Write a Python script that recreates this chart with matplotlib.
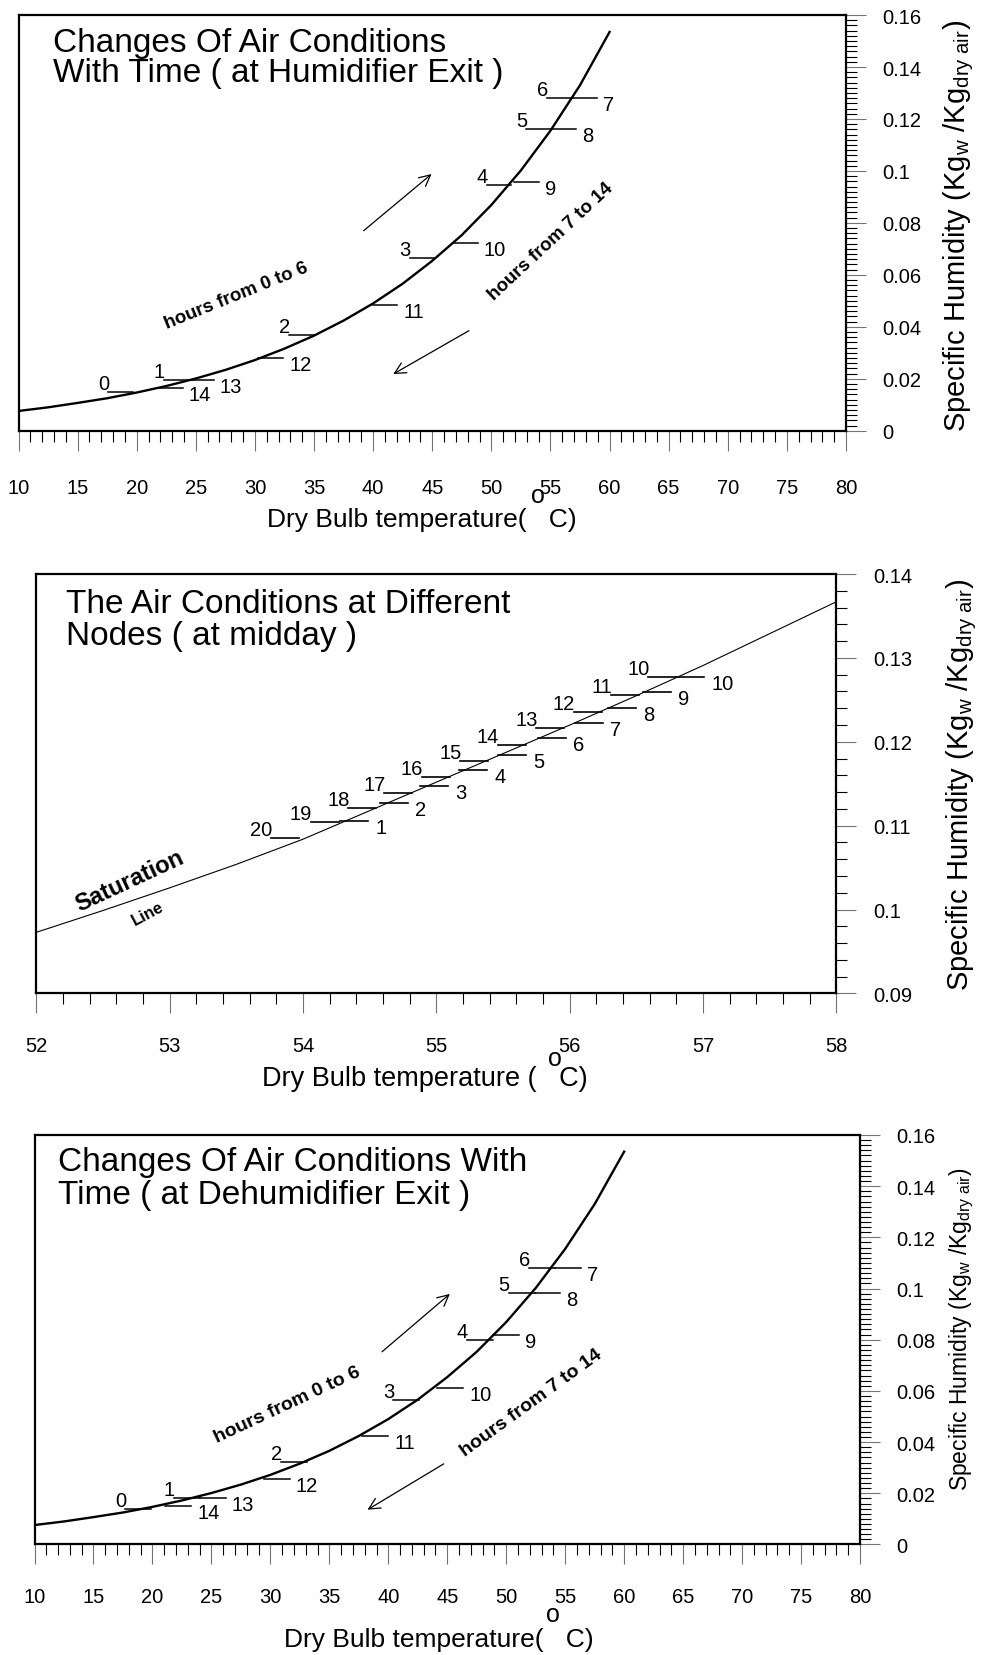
import matplotlib
matplotlib.use("Agg")
import matplotlib.pyplot as plt
from matplotlib.ticker import MultipleLocator, FuncFormatter

plt.rcParams["font.family"] = ["Liberation Sans", "DejaVu Sans"]
plt.rcParams["mathtext.fontset"] = "custom"
plt.rcParams["mathtext.rm"] = "Liberation Sans"
plt.rcParams["mathtext.it"] = "Liberation Sans:italic"
plt.rcParams["mathtext.bf"] = "Liberation Sans:bold"

# saturation curve used in the top and bottom panels
sat_temp = [10, 12.5, 15, 17.5, 20, 22.5, 25, 27.5, 30, 32.5, 35, 37.5,
            40, 42.5, 45, 47.5, 50, 52.5, 55, 57.5, 60]
sat_hum = [0.0076, 0.0090, 0.0107, 0.0125, 0.0147, 0.0172, 0.0201, 0.0234,
           0.0272, 0.0316, 0.0366, 0.0424, 0.0490, 0.0566, 0.0654, 0.0753,
           0.0869, 0.1002, 0.1155, 0.1330, 0.1535]

hours = list(range(15))

# air state at humidifier exit, hours 0..14
hum_temp = [19.7, 24.4, 34.97, 45.2, 51.7, 55.05, 56.8, 56.8, 55.05, 51.9,
            46.75, 39.95, 30.3, 24.4, 21.8]
hum_q = [0.0148, 0.0195, 0.0368, 0.0665, 0.0947, 0.1160, 0.1279, 0.1279,
         0.1160, 0.0958, 0.0721, 0.0484, 0.0280, 0.0195, 0.0163]

# air state at dehumidifier exit, hours 0..14
dehum_temp = [19.9, 24.0, 33.1, 42.64, 48.85, 52.4, 54.15, 54.15, 52.4,
              48.85, 44.15, 37.79, 29.46, 24.0, 21.1]
dehum_q = [0.0139, 0.0181, 0.0321, 0.0566, 0.0799, 0.0982, 0.1082, 0.1082,
           0.0982, 0.0819, 0.0610, 0.0423, 0.0256, 0.0181, 0.0152]

# middle panel: saturation line and nodes at midday
mid_temp = [52, 52.5, 53, 53.5, 54, 54.5, 55, 55.5, 56, 56.5, 57, 57.5, 58]
mid_hum = [0.0973, 0.0999, 0.1026, 0.1054, 0.1084, 0.1118, 0.1152, 0.1186,
           0.1220, 0.1255, 0.1291, 0.1329, 0.1367]

node_left_labels = ["20", "19", "18", "17", "16", "15", "14", "13", "12", "11", "10"]
node_left_temp = [53.97, 54.27, 54.55, 54.82, 55.1, 55.39, 55.67, 55.96, 56.24, 56.52, 56.8]
node_left_q = [0.1085, 0.1104, 0.1121, 0.1139, 0.1158, 0.1177, 0.1196,
               0.1216, 0.1236, 0.1256, 0.1277]

node_right_labels = ["1", "2", "3", "4", "5", "6", "7", "8", "9", "10"]
node_right_temp = [54.28, 54.58, 54.88, 55.17, 55.46, 55.76, 56.04, 56.29, 56.55, 56.8]
node_right_q = [0.1106, 0.1127, 0.1147, 0.1166, 0.1184, 0.1204, 0.1222,
                0.1240, 0.1259, 0.1277]

ylabel = r"Specific Humidity (Kg$_{\mathrm{w}}$ /Kg$_{\mathrm{dry\ air}}$)"


def style_axes(ax, xlim, ylim, xmaj, xmin, ymaj, ymin, xpad=16):
    ax.set_xlim(xlim)
    ax.set_ylim(ylim)
    ax.xaxis.set_major_locator(MultipleLocator(xmaj))
    ax.xaxis.set_minor_locator(MultipleLocator(xmin))
    ax.yaxis.set_major_locator(MultipleLocator(ymaj))
    ax.yaxis.set_minor_locator(MultipleLocator(ymin))
    ax.xaxis.tick_bottom()
    ax.yaxis.tick_right()
    ax.yaxis.set_major_formatter(FuncFormatter(lambda v, p: f"{v:g}"))
    ax.xaxis.set_major_formatter(FuncFormatter(lambda v, p: f"{v:g}"))
    ax.tick_params(which="major", direction="out", length=14.4, width=0.8,
                   color="0.45", labelsize=14.5)
    ax.tick_params(which="minor", direction="out", length=7.6, width=0.8,
                   color="black")
    ax.tick_params(axis="x", which="major", pad=xpad)
    ax.tick_params(axis="y", which="major", pad=12)
    for sp in ax.spines.values():
        sp.set_linewidth(1.6)


def draw_hours(ax, temp, q, bar_len):
    for h, t, v in zip(hours, temp, q):
        if h <= 6:
            ax.plot([t - bar_len, t], [v, v], color="black", lw=1.1)
            ax.annotate(str(h), (t - bar_len, v), xytext=(1, 3),
                        textcoords="offset pixels", ha="right",
                        va="baseline", fontsize=14.5)
        else:
            ax.plot([t, t + bar_len], [v, v], color="black", lw=1.1)
            ax.annotate(str(h), (t + bar_len, v), xytext=(6, -12),
                        textcoords="offset pixels", ha="left",
                        va="baseline", fontsize=14.5)


def arrow(ax, start, end):
    ax.annotate("", xy=end, xytext=start,
                arrowprops=dict(arrowstyle="->", lw=0.9, color="black",
                                shrinkA=0, shrinkB=0, mutation_scale=20))


fig = plt.figure(figsize=(9.83, 16.56), dpi=100)

# ---- top panel: humidifier exit
ax1 = fig.add_axes([0.01882, 0.7393, 0.8418, 0.2510])
style_axes(ax1, (10, 80), (0, 0.16), 5, 1, 0.02, 0.002, xpad=20)
ax1.plot(sat_temp, sat_hum, color="black", lw=1.7)
draw_hours(ax1, hum_temp, hum_q, 2.1)
arrow(ax1, (39.2, 0.0770), (44.94, 0.0988))
arrow(ax1, (48.1, 0.0385), (41.7, 0.0218))
ax1.text(28.4, 0.052, "hours from 0 to 6", rotation=22, ha="center",
         va="center", fontsize=13.5, fontweight="bold")
ax1.text(55.0, 0.0731, "hours from 7 to 14", rotation=43, ha="center",
         va="center", fontsize=13.5, fontweight="bold")
ax1.text(0.0421, 0.935, "Changes Of Air Conditions", transform=ax1.transAxes,
         ha="left", va="center", fontsize=24)
ax1.text(0.0421, 0.861, "With Time ( at Humidifier Exit )",
         transform=ax1.transAxes, ha="left", va="center", fontsize=24)
ax1.text(0.4873, -0.2124, "Dry Bulb temperature(   C)", transform=ax1.transAxes,
         ha="center", va="center", fontsize=19)
ax1.text(0.6278, -0.1547, "o", transform=ax1.transAxes, ha="center",
         va="center", fontsize=18)
ax1.text(1.1366, 0.495, ylabel, transform=ax1.transAxes, rotation=90,
         ha="center", va="center", fontsize=21)

# ---- middle panel: nodes at midday
ax2 = fig.add_axes([0.03713, 0.39946, 0.8138, 0.2533])
style_axes(ax2, (52, 58), (0.09, 0.14), 1, 0.2, 0.01, 0.002)
ax2.plot(mid_temp, mid_hum, color="black", lw=0.8)
for lab, t, v in zip(node_left_labels, node_left_temp, node_left_q):
    ax2.plot([t - 0.21, t], [v, v], color="black", lw=1.2)
    ax2.annotate(lab, (t - 0.21, v), xytext=(1, 3), textcoords="offset pixels",
                 ha="right", va="baseline", fontsize=14.5)
for lab, t, v in zip(node_right_labels, node_right_temp, node_right_q):
    ax2.plot([t, t + 0.21], [v, v], color="black", lw=1.2)
    ax2.annotate(lab, (t + 0.21, v), xytext=(7, -12), textcoords="offset pixels",
                 ha="left", va="baseline", fontsize=14.5)
ax2.text(52.695, 0.10354, "Saturation", rotation=25, ha="center", va="center",
         fontsize=17, fontweight="bold")
ax2.text(52.838, 0.09957, "Line", rotation=28, ha="center", va="center",
         fontsize=12, fontweight="bold")
ax2.text(0.0366, 0.9304, "The Air Conditions at Different",
         transform=ax2.transAxes, ha="left", va="center", fontsize=24)
ax2.text(0.0366, 0.8527, "Nodes ( at midday )", transform=ax2.transAxes,
         ha="left", va="center", fontsize=24)
ax2.text(0.485, -0.2014, "Dry Bulb temperature (   C)", transform=ax2.transAxes,
         ha="center", va="center", fontsize=19.5)
ax2.text(0.648, -0.153, "o", transform=ax2.transAxes, ha="center",
         va="center", fontsize=18)
ax2.text(1.157, 0.4994, ylabel, transform=ax2.transAxes, rotation=90,
         ha="center", va="center", fontsize=21)

# ---- bottom panel: dehumidifier exit
ax3 = fig.add_axes([0.0351, 0.06673, 0.8398, 0.2473])
style_axes(ax3, (10, 80), (0, 0.16), 5, 1, 0.02, 0.002)
ax3.plot(sat_temp, sat_hum, color="black", lw=1.7)
draw_hours(ax3, dehum_temp, dehum_q, 2.2)
arrow(ax3, (39.47, 0.0753), (45.22, 0.0979))
arrow(ax3, (44.7, 0.0315), (38.24, 0.0136))
ax3.text(31.43, 0.0547, "hours from 0 to 6", rotation=25, ha="center",
         va="center", fontsize=14, fontweight="bold")
ax3.text(52.1, 0.0556, "hours from 7 to 14", rotation=36, ha="center",
         va="center", fontsize=14, fontweight="bold")
ax3.text(0.0281, 0.934, "Changes Of Air Conditions With",
         transform=ax3.transAxes, ha="left", va="center", fontsize=24)
ax3.text(0.0281, 0.854, "Time ( at Dehumidifier Exit )",
         transform=ax3.transAxes, ha="left", va="center", fontsize=24)
ax3.text(0.4898, -0.2298, "Dry Bulb temperature(   C)", transform=ax3.transAxes,
         ha="center", va="center", fontsize=19)
ax3.text(0.628, -0.1685, "o", transform=ax3.transAxes, ha="center",
         va="center", fontsize=18)
ax3.text(1.1236, 0.528, ylabel, transform=ax3.transAxes, rotation=90,
         ha="center", va="center", fontsize=16.5)

fig.savefig("out.png", dpi=100)
